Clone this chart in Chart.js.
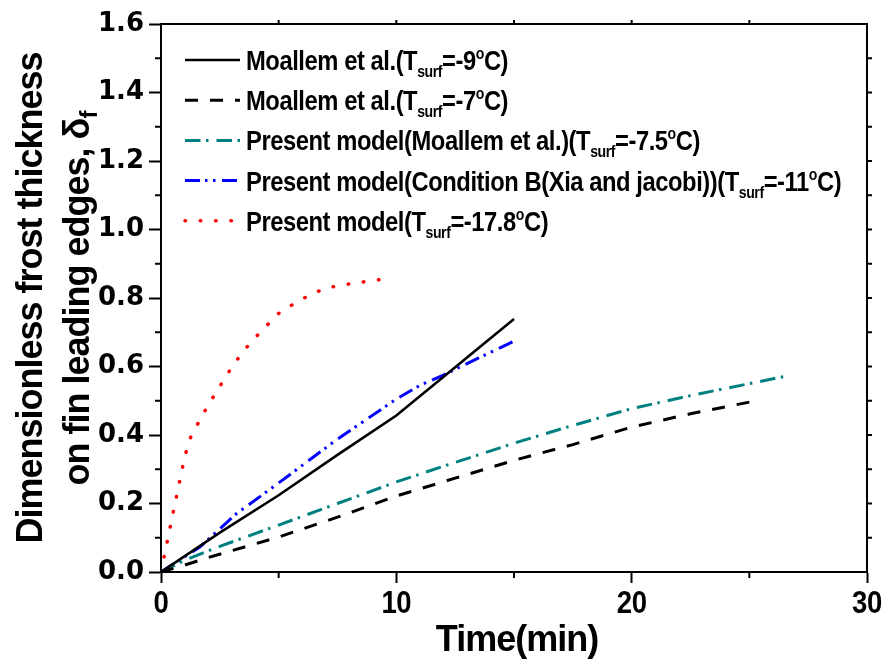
<!DOCTYPE html>
<html>
<head>
<meta charset="utf-8">
<script src="https://cdn.jsdelivr.net/npm/chart.js@4.4.1/dist/chart.umd.min.js"></script>
<style>
  html, body { margin: 0; padding: 0; background: #ffffff; }
  #wrap { width: 890px; height: 663px; }
</style>
</head>
<body>
<div id="wrap"><canvas id="frostChart" width="890" height="663"></canvas></div>
<script>
// Frost growth on fin leading edges: time (min) vs dimensionless thickness
const tMoallem9 = [0, 2.5, 5, 7.5, 10, 12.5, 15];
const dMoallem9 = [0, 0.115, 0.224, 0.342, 0.457, 0.598, 0.739];

const tMoallem7 = [0, 1, 2, 5, 7.5, 10, 12.5, 15, 17.5, 20, 22.5, 25];
const dMoallem7 = [0, 0.02, 0.042, 0.102, 0.16, 0.222, 0.274, 0.326, 0.372, 0.423, 0.462, 0.496];

const tModelMoallem = [0, 1, 2.5, 5, 7.5, 10, 12.5, 15, 17.5, 20, 22.5, 25, 26.5];
const dModelMoallem = [0, 0.034, 0.075, 0.137, 0.2, 0.263, 0.32, 0.376, 0.428, 0.477, 0.515, 0.55, 0.571];

const tModelXia = [0, 1.65, 3.2, 5, 7.5, 10, 11, 12, 13.5, 15];
const dModelXia = [0, 0.073, 0.17, 0.26, 0.388, 0.505, 0.545, 0.575, 0.625, 0.674];

const tModel178 = [0, 0.5, 1, 1.2, 1.5, 2, 2.5, 3, 3.5, 4, 4.5, 5, 5.5, 6, 6.5, 7, 7.5, 8, 8.5, 9, 9.45];
const dModel178 = [0, 0.168, 0.333, 0.385, 0.425, 0.487, 0.542, 0.597, 0.645, 0.684, 0.72, 0.755, 0.777, 0.797, 0.814, 0.829, 0.835, 0.841, 0.846, 0.851, 0.855];

// Legend texts: _{...} is a subscript, ^{...} a superscript
const seriesLabels = [
  'Moallem et al.(T_{surf}=-9^{o}C)',
  'Moallem et al.(T_{surf}=-7^{o}C)',
  'Present model(Moallem et al.)(T_{surf}=-7.5^{o}C)',
  'Present model(Condition B(Xia and jacobi))(T_{surf}=-11^{o}C)',
  'Present model(T_{surf}=-17.8^{o}C)'
];

// Axis ticks
const xTicks = [0, 10, 20, 30];
const xTickLabels = ['0', '10', '20', '30'];
const xMinorTicks = [5, 15, 25];
const yTicks = [0, 0.2, 0.4, 0.6, 0.8, 1.0, 1.2, 1.4, 1.6];
const yTickLabels = ['0.0', '0.2', '0.4', '0.6', '0.8', '1.0', '1.2', '1.4', '1.6'];
const yMinorTicks = [0.1, 0.3, 0.5, 0.7, 0.9, 1.1, 1.3, 1.5];

const xTitle = 'Time(min)';
const yTitleLines = ['Dimensionless frost thickness', 'on fin leading edges, \u03B4_{f}'];

// Line styles
const seriesStyles = [
  { color: '#000000', width: 2.6, dash: [], cap: 'butt' },
  { color: '#000000', width: 3, dash: [13, 12], cap: 'butt' },
  { color: '#008080', width: 3, dash: [15.5, 5.5, 2.5, 8], cap: 'butt' },
  { color: '#0000ff', width: 3, dash: [15, 5, 2.5, 5.5, 2.5, 6.5], cap: 'butt' },
  { color: '#ff0000', width: 3.5, dash: [0.5, 14.8], cap: 'round' }
];

const seriesX = [tMoallem9, tMoallem7, tModelMoallem, tModelXia, tModel178];
const seriesY = [dMoallem9, dMoallem7, dModelMoallem, dModelXia, dModel178];

const datasets = seriesLabels.map((label, i) => ({
  label: label,
  data: seriesX[i].map((t, k) => ({ x: t, y: seriesY[i][k] })),
  borderColor: seriesStyles[i].color,
  borderWidth: seriesStyles[i].width,
  borderDash: seriesStyles[i].dash,
  borderCapStyle: seriesStyles[i].cap,
  pointRadius: 0,
  pointHoverRadius: 0,
  fill: false,
  tension: 0
}));

const FAMILY = "'Liberation Sans', Arial, Helvetica, sans-serif";

function parseRich(s) {
  const out = [];
  const re = /(_|\^)\{([^}]*)\}/g;
  let last = 0, m;
  while ((m = re.exec(s))) {
    if (m.index > last) out.push({ t: s.slice(last, m.index), k: 'n' });
    out.push({ t: m[2], k: m[1] === '_' ? 'sub' : 'sup' });
    last = re.lastIndex;
  }
  if (last < s.length) out.push({ t: s.slice(last), k: 'n' });
  return out;
}

function setPartFont(ctx, st, k) {
  const size = k === 'n' ? st.size : st.small;
  ctx.font = 'bold ' + size + 'px ' + FAMILY;
  ctx.letterSpacing = (k === 'n' ? st.spacing : st.smallSpacing) + 'px';
}

function richWidth(ctx, parts, st) {
  let w = 0;
  parts.forEach(p => { setPartFont(ctx, st, p.k); w += ctx.measureText(p.t).width; });
  return w;
}

// Draws text with sub/superscripts; st.sx squeezes the glyphs horizontally
function drawRich(ctx, text, x, y, st, align) {
  const parts = parseRich(text);
  const sx = st.sx || 1;
  let cx = 0;
  if (align === 'center') cx = -richWidth(ctx, parts, st) / 2;
  ctx.save();
  ctx.translate(x, y);
  ctx.scale(sx, 1);
  ctx.textAlign = 'left';
  ctx.textBaseline = 'alphabetic';
  parts.forEach(p => {
    setPartFont(ctx, st, p.k);
    const dy = p.k === 'sub' ? st.subDy : (p.k === 'sup' ? st.supDy : 0);
    ctx.fillText(p.t, cx, dy);
    cx += ctx.measureText(p.t).width;
  });
  ctx.restore();
}

const frostDecor = {
  id: 'frostDecor',
  afterDraw(chart) {
    const { ctx, chartArea: a, scales } = chart;
    const xs = scales.x, ys = scales.y;
    ctx.save();
    ctx.strokeStyle = '#000000';
    ctx.fillStyle = '#000000';
    ctx.lineWidth = 2;
    ctx.lineCap = 'square';
    ctx.setLineDash([]);

    // top and right frame
    ctx.beginPath();
    ctx.moveTo(a.left, a.top);
    ctx.lineTo(a.right, a.top);
    ctx.lineTo(a.right, a.bottom);
    ctx.stroke();

    ctx.lineCap = 'butt';
    ctx.beginPath();
    // minor ticks, left and bottom
    yMinorTicks.forEach(v => {
      const py = ys.getPixelForValue(v);
      ctx.moveTo(a.left - 6, py); ctx.lineTo(a.left, py);
    });
    xMinorTicks.forEach(v => {
      const px = xs.getPixelForValue(v);
      ctx.moveTo(px, a.bottom); ctx.lineTo(px, a.bottom + 6);
    });
    // short ticks on the right edge
    yMinorTicks.concat(yTicks.slice(1, -1)).forEach(v => {
      const py = ys.getPixelForValue(v);
      ctx.moveTo(a.right, py); ctx.lineTo(a.right + 5, py);
    });
    // short ticks on the top edge
    xMinorTicks.concat(xTicks.slice(1, -1)).forEach(v => {
      const px = xs.getPixelForValue(v);
      ctx.moveTo(px, a.top); ctx.lineTo(px, a.top - 4);
    });
    ctx.stroke();

    // x tick labels (condensed bold)
    const xTickSt = { size: 32, small: 20, spacing: -0.5, smallSpacing: 0, subDy: 0, supDy: 0, sx: 0.86 };
    xTicks.forEach((v, i) => {
      drawRich(ctx, xTickLabels[i], xs.getPixelForValue(v), 613, xTickSt, 'center');
    });

    // x axis title
    const titleSt = { size: 36, small: 24, spacing: -1, smallSpacing: 0, subDy: 8, supDy: -12 };
    drawRich(ctx, xTitle, (a.left + a.right) / 2 + 3, 651, titleSt, 'center');

    // y axis title, two rotated lines
    const cy = (a.top + a.bottom) / 2;
    const baseX = [42, 89];
    yTitleLines.forEach((line, i) => {
      ctx.save();
      ctx.translate(baseX[i], cy);
      ctx.rotate(-Math.PI / 2);
      drawRich(ctx, line, 0, 0, titleSt, 'center');
      ctx.restore();
    });

    // legend
    const legSt = { size: 27, small: 16, spacing: -0.5, smallSpacing: -0.5, subDy: 7, supDy: -11, sx: 0.88 };
    const rowY0 = 60, rowStep = 40.2;
    chart.data.datasets.forEach((ds, i) => {
      const ry = rowY0 + i * rowStep;
      ctx.save();
      ctx.strokeStyle = ds.borderColor;
      ctx.lineWidth = ds.borderWidth;
      ctx.lineCap = ds.borderCapStyle;
      ctx.setLineDash(ds.borderDash);
      ctx.beginPath();
      ctx.moveTo(185, ry);
      ctx.lineTo(240, ry);
      ctx.stroke();
      ctx.restore();
      ctx.fillStyle = '#000000';
      drawRich(ctx, ds.label, 246, ry + 10, legSt, 'left');
    });
    ctx.restore();
  }
};

new Chart(document.getElementById('frostChart'), {
  type: 'line',
  data: { datasets: datasets },
  plugins: [frostDecor],
  options: {
    responsive: false,
    animation: false,
    devicePixelRatio: 1,
    layout: { padding: { left: 0, top: 24, right: 23, bottom: 0 } },
    plugins: { legend: { display: false }, tooltip: { enabled: false } },
    scales: {
      x: {
        type: 'linear',
        min: 0, max: 30,
        afterBuildTicks: s => { s.ticks = xTicks.map(v => ({ value: v })); },
        afterFit: s => { s.height = 91; },
        ticks: { display: false },
        grid: { drawOnChartArea: false, drawTicks: true, tickLength: 11, tickWidth: 2, tickColor: '#000000' },
        border: { display: true, color: '#000000', width: 2 }
      },
      y: {
        type: 'linear',
        min: 0, max: 1.6,
        afterBuildTicks: s => { s.ticks = yTicks.map(v => ({ value: v })); },
        afterFit: s => { s.width = 161; },
        ticks: {
          color: '#000000',
          padding: 5,
          font: { family: "'DejaVu Sans', sans-serif", weight: 'bold', size: 26 },
          callback: (v, i) => yTickLabels[i]
        },
        grid: { drawOnChartArea: false, drawTicks: true, tickLength: 12, tickWidth: 2, tickColor: '#000000' },
        border: { display: true, color: '#000000', width: 2 }
      }
    }
  }
});
</script>
</body>
</html>
